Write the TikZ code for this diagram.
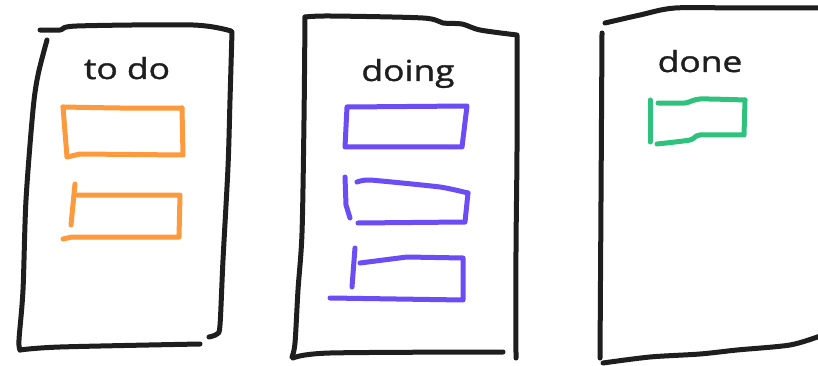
\documentclass[tikz,border=0pt]{standalone}
\usepackage{fontspec}
\setmainfont{Open Sans}
\newfontfamily\titlefont[FakeBold=1.2]{Open Sans}
\begin{document}
\begin{tikzpicture}[x=1pt,y=-1pt,
  ink/.style={line width=5pt,line cap=round,line join=round},
  frame/.style={ink,draw=inkblack},
  ocard/.style={ink,draw=cardorange},
  pcard/.style={ink,draw=cardpurple},
  gcard/.style={ink,draw=cardgreen},
  title/.style={anchor=base,text=inkblack,font=\titlefont\fontsize{29}{32}\selectfont,inner sep=0pt}]
\definecolor{inkblack}{HTML}{1E1E1E}
\definecolor{cardorange}{HTML}{FD9A3E}
\definecolor{cardpurple}{HTML}{6B4CF5}
\definecolor{cardgreen}{HTML}{2EC27E}
\useasboundingbox[fill=white] (0,0) rectangle (818,366);
% ---- panel 1: to do
\draw[frame] plot[smooth,tension=0.5] coordinates {(40,30) (60,30) (77,26) (193,25) (231,31)};
\draw[frame] plot[smooth,tension=0.5] coordinates {(232,32) (230,100) (228,167) (223,260) (220,325) (217,334) (209,337)};
\draw[frame] plot[smooth,tension=0.5] coordinates {(47,40) (38,75) (33,110) (26,200) (23,290) (19,340) (20,350)};
\draw[frame] plot[smooth,tension=0.5] coordinates {(20,350) (60,347) (200,344)};
\node[title] (todo) at (127,79) {\scalebox{1.22}[1]{to do}};
\draw[ocard] plot[smooth,tension=0.3] coordinates {(63,107) (120,108) (182,108)};
\draw[ocard] (182,108) -- (183,155) -- (80,154) -- (67,157) -- (63,107);
\draw[ocard] (75,184) -- (71,225);
\draw[ocard] (77,195) -- (180,195) -- (179,237) -- (72,237) -- (63,239);
% ---- panel 2: doing
\draw[frame] plot[smooth,tension=0.5] coordinates {(305,17) (330,16) (423,18) (443,23) (462,24) (480,30) (517,35)};
\draw[frame] plot[smooth,tension=0.5] coordinates {(517,36) (517,150) (516,250) (516,358)};
\draw[frame] plot[smooth,tension=0.5] coordinates {(305,17) (304,120) (302,233) (298,290) (295,343) (292,357)};
\draw[frame] plot[smooth,tension=0.5] coordinates {(293,358) (330,353) (503,352)};
\node[title] (doing) at (408,81) {\scalebox{1.22}[1]{doing}};
\draw[pcard] (347,107) -- (467,106) -- (462,147) -- (345,147) -- cycle;
\draw[pcard] (345,177) -- (346,205) -- (350,218);
\draw[pcard] plot[smooth,tension=0.3] coordinates {(357,182) (370,180) (440,187) (468,193)};
\draw[pcard] (468,193) -- (465,222) -- (358,223);
\draw[pcard] (355,248) -- (352,287);
\draw[pcard] (360,263) -- (407,257) -- (463,258) -- (463,300) -- (330,298);
% ---- panel 3: done
\draw[frame] plot[smooth,tension=0.5] coordinates {(605,23) (640,15) (675,8) (740,8) (820,8)};
\draw[frame] plot[smooth,tension=0.5] coordinates {(602,33) (601,200) (600,358)};
\draw[frame] plot[smooth,tension=0.5] coordinates {(603,363) (650,357) (700,354) (737,350) (790,345) (820,336)};
\node[title] (done) at (700,72) {\scalebox{1.22}[1]{done}};
\draw[gcard] (650,100) -- (650,142);
\draw[gcard] plot[smooth,tension=0.4] coordinates {(658,103) (685,103) (700,99) (745,100)};
\draw[gcard] (745,100) -- (744,135);
\draw[gcard] plot[smooth,tension=0.4] coordinates {(742,135) (700,135) (690,140) (657,144)};
\end{tikzpicture}
\end{document}
